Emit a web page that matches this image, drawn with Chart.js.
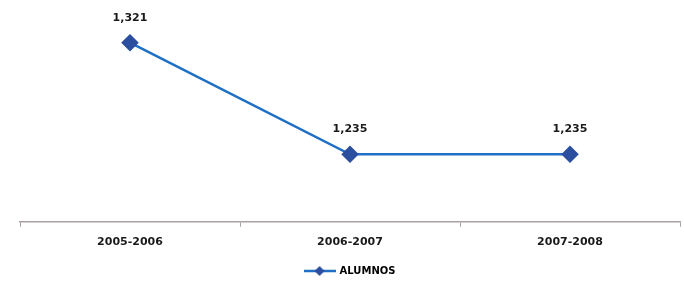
<!DOCTYPE html>
<html lang="es">
<head>
<meta charset="UTF-8">
<title>Alumnos</title>
<script src="https://cdn.jsdelivr.net/npm/chart.js"></script>
<style>
    html, body { margin: 0; background: #ffffff; overflow: hidden; }
    .wrap { width: 684px; height: 286px; }
</style>
</head>
<body>
<div class="wrap"><canvas id="chart"></canvas></div>
<script>
// Datos
const periodos = ["2005-2006", "2006-2007", "2007-2008"];
const alumnos = [1321, 1235, 1235];
const serie = "ALUMNOS";

const azul = '#1f6fc4';
const azulMarca = '#2b4f9e';
const ejeColor = '#ab9f9f';

// icono de leyenda: linea + rombo
const icono = document.createElement('canvas');
icono.width = 32; icono.height = 12;
(function () {
    const c = icono.getContext('2d');
    c.strokeStyle = azul; c.lineWidth = 2.5;
    c.beginPath(); c.moveTo(0, 6); c.lineTo(32, 6); c.stroke();
    c.fillStyle = azulMarca;
    c.beginPath(); c.moveTo(16, 1); c.lineTo(21, 6); c.lineTo(16, 11); c.lineTo(11, 6); c.closePath(); c.fill();
})();

// etiquetas de valor sobre los puntos
const etiquetas = {
    id: 'etiquetas',
    afterDatasetsDraw(chart) {
        const ctx = chart.ctx;
        const meta = chart.getDatasetMeta(0);
        ctx.save();
        ctx.font = 'bold 11px "DejaVu Sans"';
        ctx.fillStyle = '#1a1a1a';
        ctx.textAlign = 'center';
        ctx.textBaseline = 'middle';
        meta.data.forEach((p, i) => {
            ctx.fillText(alumnos[i].toLocaleString('en-US'), p.x, p.y - 25);
        });
        ctx.restore();
    }
};

new Chart(document.getElementById('chart'), {
    type: 'line',
    data: {
        labels: periodos,
        datasets: [{
            label: serie,
            data: alumnos,
            borderColor: azul,
            backgroundColor: azulMarca,
            borderWidth: 2.5,
            pointStyle: 'rectRot',
            pointRadius: 7,
            pointBackgroundColor: azulMarca,
            pointBorderColor: azulMarca,
            tension: 0
        }]
    },
    options: {
        responsive: true,
        maintainAspectRatio: false,
        animation: false,
        layout: { autoPadding: false, padding: { top: 5, left: 20, right: 4, bottom: 0 } },
        scales: {
            x: {
                offset: true,
                border: { color: ejeColor, width: 1.5 },
                grid: { display: true, offset: true, drawOnChartArea: false, tickLength: 5, color: ejeColor },
                ticks: { color: '#1a1a1a', padding: 9, font: { family: 'DejaVu Sans', size: 11, weight: 'bold' } }
            },
            y: {
                display: false,
                min: 1183,
                max: 1350
            }
        },
        plugins: {
            tooltip: { enabled: false },
            legend: {
                position: 'bottom',
                labels: {
                    usePointStyle: true,
                    pointStyle: icono,
                    pointStyleWidth: 30,
                    boxHeight: 10,
                    padding: 8,
                    color: '#1a1a1a',
                    font: { family: 'DejaVu Sans', size: 10, weight: 'bold' },
                    generateLabels(chart) {
                        return [{ text: serie, pointStyle: icono, fillStyle: azulMarca, strokeStyle: azul, lineWidth: 0, datasetIndex: 0 }];
                    }
                }
            }
        }
    },
    plugins: [etiquetas]
});
</script>
</body>
</html>
